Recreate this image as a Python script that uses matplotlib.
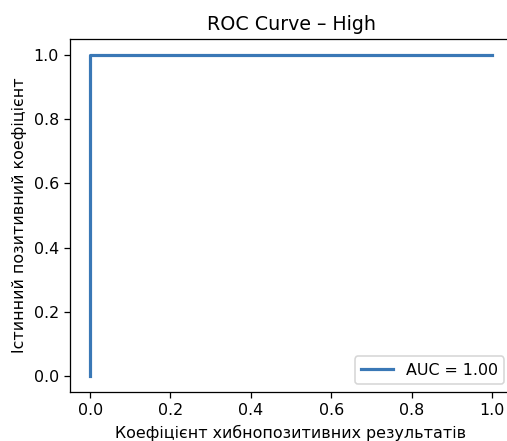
import matplotlib
matplotlib.use("Agg")
import matplotlib.pyplot as plt

fpr = [0.0, 0.0, 1.0]
tpr = [0.0, 1.0, 1.0]
auc_label = "AUC = 1.00"
title = "ROC Curve – High"
xlabel = "Коефіцієнт хибнопозитивних результатів"
ylabel = "Істинний позитивний коефіцієнт"

DPI = 114
fig = plt.figure(figsize=(507/DPI, 441/DPI), dpi=DPI)
ax = fig.add_axes([70/507, 49/441, 442/507, 353/441])
ax.plot(fpr, tpr, color="#3a78b6", lw=2, label=auc_label)
ax.set_title(title, fontsize=12)
ax.set_xlabel(xlabel)
ax.set_ylabel(ylabel)
ax.legend(loc="lower right")
fig.savefig("out.png", dpi=DPI)
